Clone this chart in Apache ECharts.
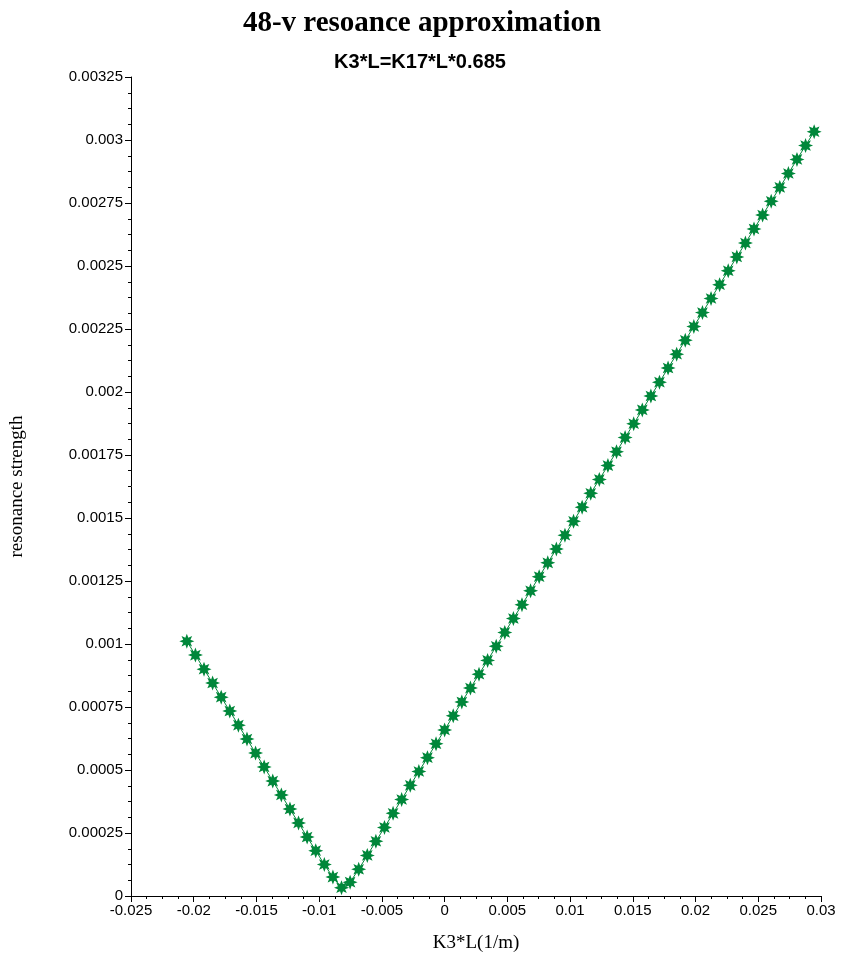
<!DOCTYPE html>
<html>
<head>
<meta charset="utf-8">
<script src="https://cdn.jsdelivr.net/npm/echarts@6/dist/echarts.min.js"></script>
<style>
html,body{margin:0;padding:0;background:#fff;}
#chart{width:843px;height:961px;}
</style>
</head>
<body>
<div id="chart"></div>
<script>
var titleText = '48-v resoance approximation';
var subtitleText = 'K3*L=K17*L*0.685';
var xAxisName = 'K3*L(1/m)';
var yAxisName = 'resonance strength';

var k3L = [
  -0.02055, -0.019865, -0.01918, -0.018495, -0.01781, -0.017125, -0.01644, -0.015755,
  -0.01507, -0.014385, -0.0137, -0.013015, -0.01233, -0.011645, -0.01096, -0.010275,
  -0.00959, -0.008905, -0.00822, -0.007535, -0.00685, -0.006165, -0.00548, -0.004795,
  -0.00411, -0.003425, -0.00274, -0.002055, -0.00137, -0.000685, 0, 0.000685,
  0.00137, 0.002055, 0.00274, 0.003425, 0.00411, 0.004795, 0.00548, 0.006165,
  0.00685, 0.007535, 0.00822, 0.008905, 0.00959, 0.010275, 0.01096, 0.011645,
  0.01233, 0.013015, 0.0137, 0.014385, 0.01507, 0.015755, 0.01644, 0.017125,
  0.01781, 0.018495, 0.01918, 0.019865, 0.02055, 0.021235, 0.02192, 0.022605,
  0.02329, 0.023975, 0.02466, 0.025345, 0.02603, 0.026715, 0.0274, 0.028085,
  0.02877, 0.029455
];

var strength = [
  0.001011, 0.000956, 0.000900, 0.000845, 0.000789, 0.000734, 0.000678, 0.000623,
  0.000567, 0.000512, 0.000456, 0.000401, 0.000345, 0.000290, 0.000234, 0.000180,
  0.000125, 0.000075, 0.000033, 0.000055, 0.000106, 0.000161, 0.000217, 0.000272,
  0.000328, 0.000383, 0.000439, 0.000494, 0.000549, 0.000604, 0.000659, 0.000715,
  0.000770, 0.000825, 0.000880, 0.000935, 0.000991, 0.001046, 0.001101, 0.001156,
  0.001211, 0.001267, 0.001322, 0.001377, 0.001432, 0.001487, 0.001543, 0.001598,
  0.001653, 0.001708, 0.001763, 0.001819, 0.001874, 0.001929, 0.001984, 0.002039,
  0.002095, 0.002150, 0.002205, 0.002260, 0.002315, 0.002371, 0.002426, 0.002481,
  0.002536, 0.002591, 0.002647, 0.002702, 0.002757, 0.002812, 0.002867, 0.002923,
  0.002978, 0.003033
];

var points = k3L.map(function (x, i) { return [x, strength[i]]; });

// 8-pointed star marker
var starPath = (function () {
  var pts = [];
  var n = 8, ro = 10, ri = 5.2;
  for (var i = 0; i < n * 2; i++) {
    var r = (i % 2 === 0) ? ro : ri;
    var a = Math.PI * i / n - Math.PI / 2;
    pts.push((i === 0 ? 'M' : 'L') + (r * Math.cos(a)).toFixed(3) + ' ' + (r * Math.sin(a)).toFixed(3));
  }
  return 'path://' + pts.join(' ') + ' Z';
})();

function fmt(v) { return String(parseFloat(Number(v).toPrecision(6))); }

var chart = echarts.init(document.getElementById('chart'), null, {renderer: 'canvas'});
chart.setOption({
  animation: false,
  backgroundColor: '#ffffff',
  title: [{
    text: titleText,
    left: 417, top: 4, textAlign: 'center',
    textStyle: {fontFamily: 'Liberation Serif', fontWeight: 'bold', fontSize: 29, color: '#000'}
  }, {
    text: subtitleText,
    left: 415, top: 47, textAlign: 'center',
    textStyle: {fontFamily: 'Liberation Sans', fontWeight: 'bold', fontSize: 20, color: '#000'}
  }],
  grid: {left: 131, right: 22, top: 77, bottom: 65, containLabel: false},
  xAxis: {
    type: 'value',
    min: -0.025, max: 0.03, interval: 0.005,
    name: xAxisName, nameLocation: 'middle', nameGap: 38,
    nameTextStyle: {fontFamily: 'Liberation Serif', fontSize: 19, color: '#000'},
    axisLine: {show: true, onZero: false, lineStyle: {color: '#000', width: 1}},
    axisTick: {show: true, length: 6, lineStyle: {color: '#000'}},
    minorTick: {show: true, splitNumber: 4, length: 3, lineStyle: {color: '#000'}},
    splitLine: {show: false},
    axisLabel: {fontFamily: 'Liberation Sans', fontSize: 15, color: '#000', margin: 7, formatter: fmt}
  },
  yAxis: {
    type: 'value',
    min: 0, max: 0.00325, interval: 0.00025,
    name: yAxisName, nameLocation: 'middle', nameGap: 104, nameRotate: 90,
    nameTextStyle: {fontFamily: 'Liberation Serif', fontSize: 19, color: '#000'},
    axisLine: {show: true, onZero: false, lineStyle: {color: '#000', width: 1}},
    axisTick: {show: true, length: 6, lineStyle: {color: '#000'}},
    minorTick: {show: true, splitNumber: 4, length: 3, lineStyle: {color: '#000'}},
    splitLine: {show: false},
    axisLabel: {fontFamily: 'Liberation Sans', fontSize: 15, color: '#000', margin: 8, formatter: fmt}
  },
  series: [{
    type: 'line',
    data: points,
    symbol: starPath,
    symbolSize: 15,
    showAllSymbol: true,
    itemStyle: {color: '#00873a'},
    lineStyle: {color: '#00873a', width: 1},
    clip: false
  }]
});
</script>
</body>
</html>
